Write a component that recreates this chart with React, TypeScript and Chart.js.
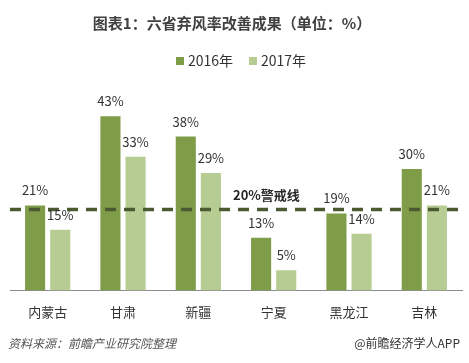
import React, { useEffect, useRef } from "react";
import { Chart, registerables } from "chart.js";

Chart.register(...registerables);

const categories = ["内蒙古", "甘肃", "新疆", "宁夏", "黑龙江", "吉林"];
const values2016 = [21, 43, 38, 13, 19, 30];
const values2017 = [15, 33, 29, 5, 14, 21];
const seriesNames = ["2016年", "2017年"];
const thresholdValue = 20;
const thresholdLabel = "20%警戒线";
const titleText = "图表1：六省弃风率改善成果（单位：%）";
const sourceText = "资料来源：前瞻产业研究院整理";
const brandText = "@前瞻经济学人APP";

const DARK = "#7f9d49";
const LIGHT = "#b6cc93";
const LINE = "#4b5a31";
const FONT = "'Noto Sans CJK SC', 'Microsoft YaHei', sans-serif";

const overlayPlugin = {
  id: "overlay",
  afterDatasetsDraw(chart: any) {
    const { ctx, chartArea, scales } = chart;
    const x = scales.x;
    const y = scales.y;
    ctx.save();

    // threshold dashed line
    const ty = y.getPixelForValue(thresholdValue);
    ctx.beginPath();
    ctx.setLineDash([11, 8]);
    ctx.lineWidth = 3.5;
    ctx.strokeStyle = LINE;
    ctx.moveTo(chartArea.left, ty);
    ctx.lineTo(chartArea.right - 2, ty);
    ctx.stroke();
    ctx.setLineDash([]);

    // threshold label
    ctx.font = `bold 13px ${FONT}`;
    ctx.fillStyle = "#262626";
    ctx.textAlign = "left";
    ctx.textBaseline = "middle";
    ctx.fillText(thresholdLabel, x.getPixelForValue(2.5) - 3, ty - 14);

    // data labels
    ctx.font = `13px ${FONT}`;
    ctx.fillStyle = "#333333";
    ctx.textAlign = "center";
    ctx.textBaseline = "alphabetic";
    chart.data.datasets.forEach((ds: any, di: number) => {
      const meta = chart.getDatasetMeta(di);
      meta.data.forEach((bar: any, i: number) => {
        ctx.fillText(ds.data[i] + "%", bar.x, bar.y - 10);
      });
    });
    ctx.restore();
  },
  afterDraw(chart: any) {
    const { ctx, width } = chart;
    ctx.save();
    // title
    ctx.font = `bold 15px ${FONT}`;
    ctx.fillStyle = "#404040";
    ctx.textAlign = "center";
    ctx.textBaseline = "middle";
    ctx.fillText(titleText, 232, 23);

    // legend
    ctx.font = `14px ${FONT}`;
    ctx.textAlign = "left";
    const colors = [DARK, LIGHT];
    const starts = [176, 249];
    seriesNames.forEach((name, i) => {
      ctx.fillStyle = colors[i];
      ctx.fillRect(starts[i], 57, 8, 8);
      ctx.fillStyle = "#333333";
      ctx.fillText(name, starts[i] + 12, 61);
    });

    // footer
    ctx.font = `italic 12px ${FONT}`;
    ctx.fillStyle = "#555555";
    ctx.textAlign = "left";
    ctx.fillText(sourceText, 8, 343);
    ctx.font = `12px ${FONT}`;
    ctx.fillStyle = "#333333";
    ctx.textAlign = "right";
    ctx.fillText(brandText, width - 9, 343);
    ctx.restore();
  },
};

export default function App() {
  const ref = useRef<HTMLCanvasElement | null>(null);
  useEffect(() => {
    document.body.style.margin = "0";
    const canvas = ref.current;
    if (!canvas) return;
    const chart = new Chart(canvas, {
      type: "bar",
      data: {
        labels: categories,
        datasets: [
          {
            label: seriesNames[0],
            data: values2016,
            backgroundColor: DARK,
            categoryPercentage: 0.667,
            barPercentage: 0.8,
          },
          {
            label: seriesNames[1],
            data: values2017,
            backgroundColor: LIGHT,
            categoryPercentage: 0.667,
            barPercentage: 0.8,
          },
        ],
      },
      options: {
        responsive: false,
        animation: false,
        layout: { padding: { left: 10, right: 7, top: 88, bottom: 29 } },
        plugins: {
          legend: { display: false },
          title: { display: false },
          tooltip: { enabled: false },
        },
        scales: {
          x: {
            grid: { display: false, drawTicks: false },
            border: { display: true, color: "#8c8c8c", width: 1 },
            ticks: {
              font: { size: 13, family: FONT },
              color: "#333333",
              padding: 14,
            },
          },
          y: { display: false, min: 0, max: 50 },
        },
      },
      plugins: [overlayPlugin],
    } as any);
    return () => chart.destroy();
  }, []);
  return <canvas ref={ref} width={469} height={363} style={{ display: "block" }} />;
}
